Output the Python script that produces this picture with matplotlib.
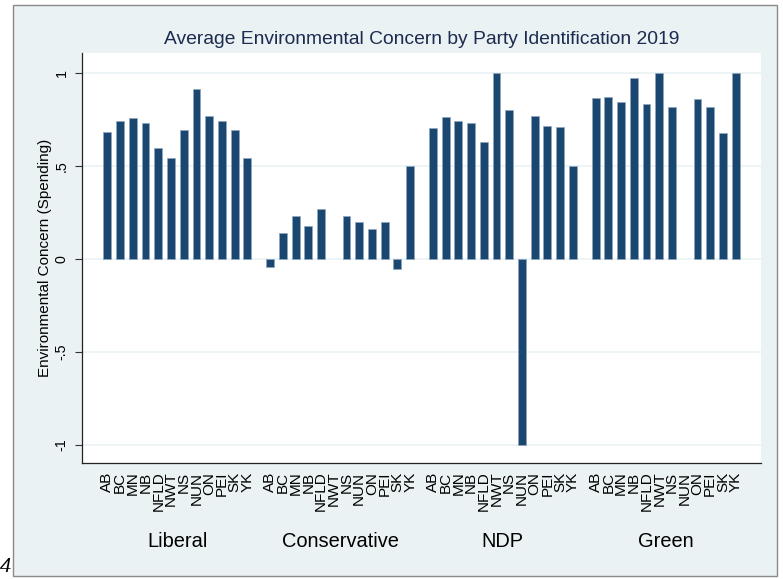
import matplotlib
matplotlib.use("Agg")
import matplotlib.pyplot as plt
import numpy as np
from matplotlib.patches import Rectangle
from matplotlib.transforms import blended_transform_factory

plt.rcParams["font.family"] = ["Liberation Sans", "DejaVu Sans"]

# data (nan = no bar)
provinces = ["AB", "BC", "MN", "NB", "NFLD", "NWT", "NS", "NUN", "ON", "PEI", "SK", "YK"]
parties = ["Liberal", "Conservative", "NDP", "Green"]
liberal = [0.682, 0.745, 0.758, 0.732, 0.596, 0.546, 0.693, 0.917, 0.768, 0.743, 0.693, 0.546]
conservative = [-0.045, 0.138, 0.232, 0.178, 0.268, np.nan, 0.232, 0.201, 0.160, 0.201, -0.052, 0.50]
ndp = [0.704, 0.763, 0.743, 0.731, 0.632, 1.0, 0.804, -1.0, 0.768, 0.715, 0.709, 0.50]
green = [0.869, 0.872, 0.844, 0.973, 0.835, 1.0, 0.817, np.nan, 0.860, 0.818, 0.677, 1.0]
yticks = [-1, -0.5, 0, 0.5, 1]
yticklabels = ["-1", "-.5", "0", ".5", "1"]

BG = "#eaf2f3"
BAR = "#1a476f"
W, H = 783, 579

fig = plt.figure(figsize=(W / 100, H / 100), dpi=100, facecolor="white")
fig.patches.append(Rectangle((13 / W, 1 - 576 / H), (777 - 13) / W, (576 - 5) / H,
                             transform=fig.transFigure, facecolor=BG,
                             edgecolor="#8a8a8a", linewidth=1.0, zorder=-5))

ax = fig.add_axes([82 / W, 1 - 463.3 / H, (761 - 82) / W, (463.3 - 53.3) / H])
ax.set_facecolor("white")

group_step = len(provinces) - 1 + 1.78
all_x, all_lab = [], []
centers = []
for g, vals in enumerate([liberal, conservative, ndp, green]):
    x = g * group_step + np.arange(len(provinces))
    v = np.array(vals, dtype=float)
    ok = ~np.isnan(v)
    ax.bar(x[ok], v[ok], width=0.62, color=BAR, edgecolor="#8fa7bf",
           linewidth=0.5, zorder=3)
    all_x.extend(x)
    all_lab.extend(provinces)
    centers.append(x.mean())

ax.set_xlim(all_x[0] - 1.99, all_x[-1] + 1.99)
ax.set_ylim(-1.1, 1.108)
ax.set_xticks(all_x)
ax.set_xticklabels(all_lab, rotation=90, fontsize=11, va="top")
ax.tick_params(axis="x", length=0, pad=6)
ax.set_yticks(yticks)
ax.set_yticklabels(yticklabels, rotation=90, va="center", fontsize=10.3)
ax.tick_params(axis="y", length=5, width=0.8, pad=4.5, color="#333333")
ax.yaxis.grid(True, color=BG, linewidth=1.2, zorder=0)
ax.set_axisbelow(True)

for s in ["top", "right"]:
    ax.spines[s].set_visible(False)
for s in ["left", "bottom"]:
    ax.spines[s].set_color("#222222")
    ax.spines[s].set_linewidth(0.9)

ax.set_ylabel("Environmental Concern (Spending)", fontsize=11, va="center")
ax.yaxis.set_label_coords((45 - 82) / (761 - 82), 0.5)

# party names under each group
grp = blended_transform_factory(ax.transData, fig.transFigure)
for c, name in zip(centers, parties):
    ax.text(c, 1 - 541.7 / H, name, transform=grp, fontsize=14.4,
            ha="center", va="center", clip_on=False)

fig.text((82 + 761) / 2 / W, 1 - 39.3 / H,
         "Average Environmental Concern by Party Identification 2019",
         ha="center", va="center", fontsize=13.9, color="#1c2b4f")

# stray page number left over from the crop
fig.text(6 / W, 1 - 568 / H, "4", fontsize=16, family=["Liberation Serif", "DejaVu Serif"],
         style="italic", ha="center", va="center")

fig.savefig("out.png", dpi=100, facecolor="white")
